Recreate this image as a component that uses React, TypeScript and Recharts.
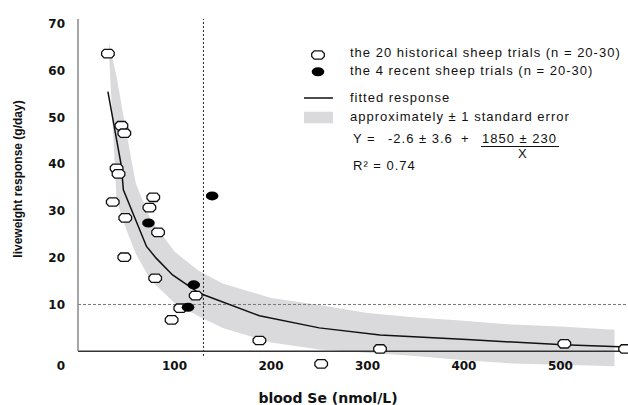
import React from "react";
import {
	ComposedChart,
	Area,
	Line,
	Scatter,
	XAxis,
	YAxis,
	ReferenceLine,
	Label,
} from "recharts";

// values
const historicalSe = [31, 45, 48, 40, 42, 36, 78, 74, 49, 83, 48, 80, 122, 106, 97, 188, 252, 313, 504, 567];
const historicalGain = [63.6, 48.2, 46.6, 39.1, 37.9, 31.9, 32.9, 30.7, 28.5, 25.4, 20.1, 15.6, 11.9, 9.2, 6.7, 2.3, -2.7, 0.5, 1.6, 0.5];
const recentSe = [73, 139, 120, 114];
const recentGain = [27.4, 33.2, 14.2, 9.4];
const fitSe = [31, 45, 47, 71, 81, 98, 126, 188, 250, 313, 403, 503, 554, 570];
const fitGain = [55.5, 39.5, 34.5, 22.4, 19.9, 16.3, 12.4, 7.6, 5.0, 3.5, 2.5, 1.4, 1.0, 0.9];
const bandSe = [32, 40, 50, 60, 75, 100, 125, 150, 200, 250, 300, 350, 400, 450, 500, 556];
const bandLow = [64, 32.2, 26.0, 20.8, 15.3, 10.3, 7.5, 5.0, 1.9, 0.4, -0.3, -1.0, -1.9, -2.6, -2.9, -3.2];
const bandHigh = [66, 58.7, 46.8, 35.8, 28.2, 21.3, 17.2, 14.5, 11.4, 9.9, 8.2, 7.2, 6.5, 5.7, 5.3, 4.6];
const xTicks = [100, 200, 300, 400, 500];
const yTicks = [0, 10, 20, 30, 40, 50, 60, 70];
const seThreshold = 130;
const gainThreshold = 10;

const historical = historicalSe.map((x, i) => ({ x, y: historicalGain[i] }));
const recent = recentSe.map((x, i) => ({ x, y: recentGain[i] }));
const fitted = fitSe.map((x, i) => ({ x, y: fitGain[i] }));
const band = bandSe.map((x, i) => ({ x, range: [bandLow[i], bandHigh[i]] }));

const tickFont = { fontFamily: "DejaVu Sans", fontWeight: "bold" as const, fontSize: 12, fill: "#111" };
const legendFont: React.CSSProperties = {
	position: "absolute",
	fontFamily: "Liberation Sans, Arial, sans-serif",
	fontSize: 13,
	letterSpacing: 1,
	lineHeight: "14px",
	color: "#111",
	whiteSpace: "pre",
};

const OpenMark = (props: any) => {
	const { cx, cy } = props;
	const d = `M${cx - 6.3},${cy - 1.5} L${cx - 3.8},${cy - 4.2} L${cx + 3.8},${cy - 4.2} L${cx + 6.3},${cy - 1.5} L${cx + 6.3},${cy + 1.5} L${cx + 3.8},${cy + 4.2} L${cx - 3.8},${cy + 4.2} L${cx - 6.3},${cy + 1.5} Z`;
	return <path d={d} fill="#fff" stroke="#111" strokeWidth={1.3} />;
};

const FilledMark = (props: any) => {
	const { cx, cy } = props;
	return <ellipse cx={cx} cy={cy} rx={6.3} ry={4.5} fill="#000" />;
};

const YTick = (props: any) => {
	const { x, y, payload } = props;
	// the origin label sits lower, level with the x tick labels
	return (
		<text x={x} y={payload.value === 0 ? y + 14.5 : y} dy="0.36em" textAnchor="end" {...tickFont}>
			{payload.value}
		</text>
	);
};

const XTick = (props: any) => {
	const { x, y, payload } = props;
	return (
		<text x={x} y={y - 4.5} dy="0.36em" textAnchor="middle" {...tickFont}>
			{payload.value}
		</text>
	);
};

export default function App() {
	return (
		<div style={{ position: "absolute", left: 0, top: 0, width: 628, height: 405, background: "#fff" }}>
			<ComposedChart width={628} height={405} margin={{ top: 19, right: 0, bottom: 0, left: 0 }}>
				<XAxis
					type="number"
					dataKey="x"
					domain={[0, 570]}
					ticks={xTicks}
					axisLine={false}
					tickLine={false}
					tickSize={0}
					tickMargin={0}
					height={35}
					tick={<XTick />}
				>
					<Label
						content={() => (
							<text x={328} y={398} dy="0.36em" textAnchor="middle" fontFamily="DejaVu Sans" fontWeight="bold" fontSize={14} fill="#111">
								blood Se (nmol/L)
							</text>
						)}
					/>
				</XAxis>
				<YAxis
					type="number"
					domain={[-4, 71]}
					ticks={yTicks}
					axisLine={false}
					tickLine={false}
					tickSize={0}
					tickMargin={13}
					width={78}
					tick={<YTick />}
				>
					<Label
						content={() => (
							<text transform="translate(18,179) rotate(-90)" dy="0.36em" textAnchor="middle" fontFamily="Liberation Sans, Arial" fontWeight="bold" fontSize={12} fill="#111">
								liveweight response (g/day)
							</text>
						)}
					/>
				</YAxis>
				<Area
					data={band}
					dataKey="range"
					type="linear"
					stroke="none"
					fill="#dadadd"
					fillOpacity={1}
					isAnimationActive={false}
				/>
				<ReferenceLine y={gainThreshold} stroke="#777" strokeDasharray="3 2" strokeWidth={1} />
				<ReferenceLine
					segment={[{ x: seThreshold, y: -1 }, { x: seThreshold, y: 71 }]}
					stroke="#222"
					strokeDasharray="2 2"
					strokeWidth={1}
				/>
				<ReferenceLine y={0} stroke="#333" strokeWidth={1.5} />
				<ReferenceLine segment={[{ x: 0, y: 0 }, { x: 0, y: 71 }]} stroke="#888" strokeWidth={1.5} />
				<Line
					data={fitted}
					dataKey="y"
					type="linear"
					stroke="#111"
					strokeWidth={1.5}
					dot={false}
					isAnimationActive={false}
				/>
				<Scatter data={historical} dataKey="y" shape={<OpenMark />} isAnimationActive={false} />
				<Scatter data={recent} dataKey="y" shape={<FilledMark />} isAnimationActive={false} />
			</ComposedChart>

			{/* legend and fitted equation */}
			<svg style={{ position: "absolute", left: 300, top: 40 }} width={40} height={90}>
				<OpenMark cx={18} cy={15} />
				<FilledMark cx={18} cy={31.7} />
				<line x1={4} x2={33} y1={58} y2={58} stroke="#111" strokeWidth={1.5} />
				<rect x={4} y={71.7} width={29} height={11.6} fill="#dadadd" />
			</svg>
			<div style={{ ...legendFont, left: 350, top: 46 }}>the 20 historical sheep trials (n = 20-30)</div>
			<div style={{ ...legendFont, left: 350, top: 63.7 }}>the 4 recent sheep trials (n = 20-30)</div>
			<div style={{ ...legendFont, left: 350, top: 90.7 }}>fitted response</div>
			<div style={{ ...legendFont, left: 350, top: 110.3 }}>approximately ± 1 standard error</div>
			<div style={{ ...legendFont, left: 353, top: 132.3 }}>Y =</div>
			<div style={{ ...legendFont, left: 388, top: 132.3 }}>-2.6 ± 3.6</div>
			<div style={{ ...legendFont, left: 461, top: 132.3 }}>+</div>
			<div style={{ ...legendFont, left: 482, top: 132.3 }}>1850 ± 230</div>
			<div style={{ position: "absolute", left: 481, top: 145.5, width: 78, height: 1.5, background: "#111" }} />
			<div style={{ ...legendFont, left: 518, top: 147 }}>X</div>
			<div style={{ ...legendFont, left: 353, top: 159 }}>R² = 0.74</div>
		</div>
	);
}
